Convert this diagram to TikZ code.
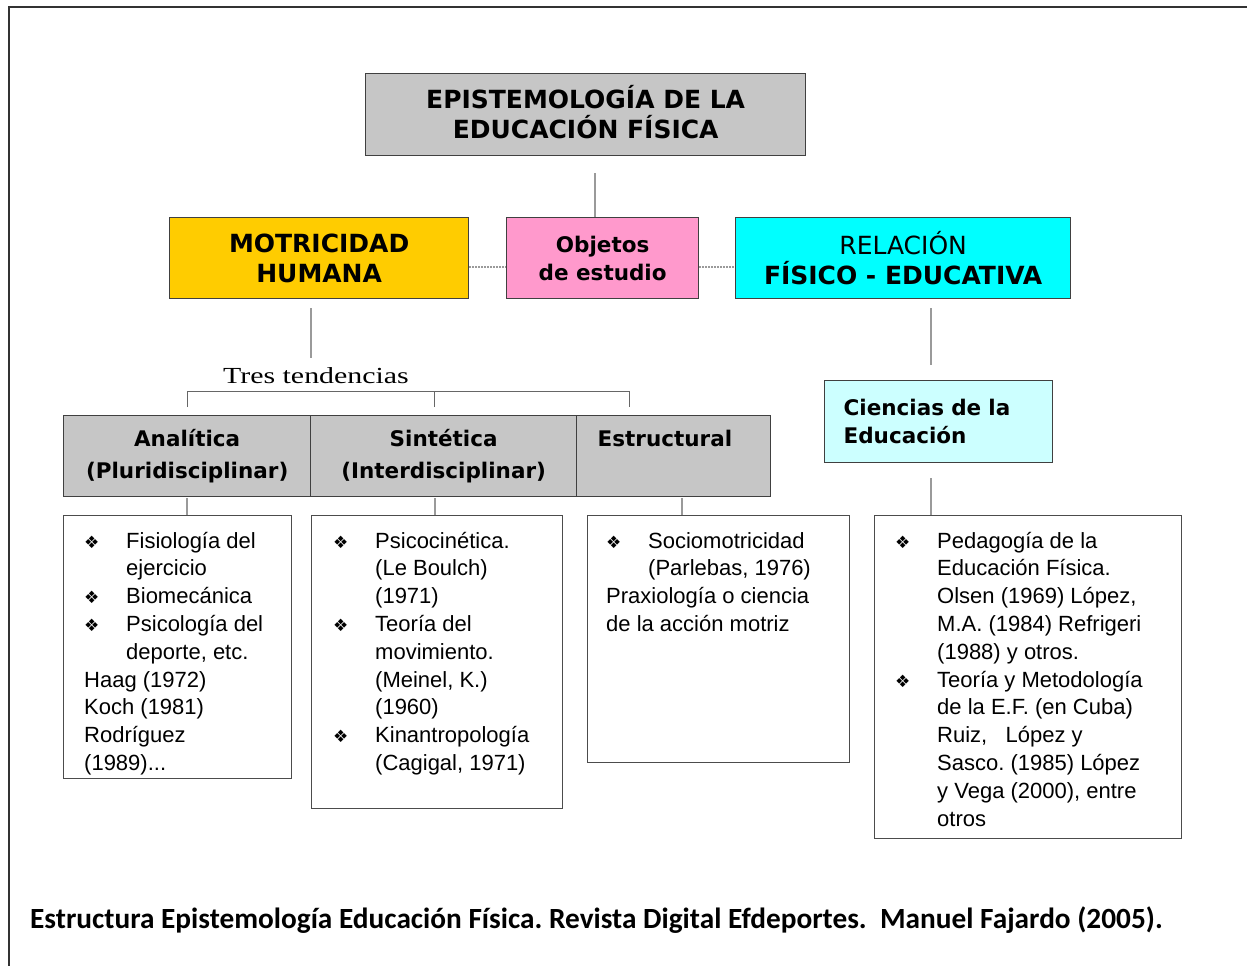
\documentclass[tikz,border=0pt]{standalone}
\usepackage{fontspec}
\usepackage{graphicx}
\setmainfont{DejaVu Sans}
\newfontfamily\boxfont{DejaVu Sans}
\newfontfamily\listfont{Liberation Sans}
\newfontfamily\serfont{Liberation Serif}
\newfontfamily\capfont{Carlito}
\newfontfamily\symfont{DejaVu Sans}
\definecolor{goldb}{HTML}{FFCC00}
\definecolor{pinkb}{HTML}{FF99CC}
\definecolor{cyanb}{HTML}{00FFFF}
\definecolor{lcyan}{HTML}{CCFFFF}
\definecolor{dotgray}{HTML}{C6C6C6}
\definecolor{linegray}{HTML}{9A9A9A}
\definecolor{frameg}{HTML}{333333}
\newcommand\bl{\makebox[42pt][l]{{\symfont\fontsize{17}{17}\selectfont ❖}}}
\newcommand\ind{\hspace*{42pt}}
\newcommand\lsize{\listfont\fontsize{22}{27.8}\selectfont}
\frenchspacing
\tikzset{
  box/.style={draw=black!75, line width=1.3pt, inner sep=0pt, anchor=north west, align=center},
  bigtxt/.style={font=\boxfont\bfseries\fontsize{25}{30}\selectfont},
  midtxt/.style={font=\boxfont\bfseries\fontsize{21.5}{28}\selectfont},
  rowtxt/.style={font=\boxfont\bfseries\fontsize{21.5}{32}\selectfont},
  listbox/.style={draw=black!70, line width=1.3pt, inner sep=0pt, anchor=north west, fill=white},
  listtxt/.style={anchor=base west, inner sep=0pt, font=\lsize},
  conn/.style={draw=linegray, line width=2.2pt},
  thinconn/.style={draw=linegray, line width=1.4pt},
  dconn/.style={draw=linegray, line width=2pt, dash pattern=on 2pt off 1pt},
  bracket/.style={draw=black!60, line width=1pt},
}
\begin{document}
\begin{tikzpicture}[x=1pt,y=-1pt]
\useasboundingbox (0,0) rectangle (1247,966);
% outer frame
\draw[frameg, line width=2.5pt] (9,966) -- (9,7) -- (1247,7);

% top boxes
\node[box, bigtxt, fill=dotgray, minimum width=440, minimum height=82] (title) at (365,73)
  {EPISTEMOLOGÍA DE LA\\EDUCACIÓN FÍSICA\rule[-6pt]{0pt}{1pt}};
\node[box, bigtxt, fill=goldb, minimum width=299, minimum height=81] (motr) at (169,217)
  {MOTRICIDAD\\HUMANA};
\node[box, midtxt, fill=pinkb, minimum width=192, minimum height=81] (obj) at (506,217)
  {Objetos\\de estudio};
\node[box, bigtxt, fill=cyanb, minimum width=335, minimum height=81] (rel) at (735,217)
  {{\mdseries RELACIÓN}\\FÍSICO - EDUCATIVA};
\node[box, midtxt, fill=lcyan, align=left, text width=190, inner xsep=19, minimum height=82] (cien) at (824,380)
  {Ciencias de la\\Educación};

% gray row
\node[box, rowtxt, fill=dotgray, minimum width=247, minimum height=81] (ana) at (63,415)
  {Analítica\\(Pluridisciplinar)};
\node[box, rowtxt, fill=dotgray, minimum width=266, minimum height=81] (sint) at (310,415)
  {Sintética\\(Interdisciplinar)};
\node[box, rowtxt, fill=dotgray, align=left, text width=152, inner xsep=21, minimum height=81] (estr) at (576,415)
  {Estructural\\\phantom{(}};

% list boxes
\node[listbox, minimum width=228, minimum height=263] (l1) at (63,515) {};
\node[listbox, minimum width=251, minimum height=293] (l2) at (311,515) {};
\node[listbox, minimum width=262, minimum height=247] (l3) at (587,515) {};
\node[listbox, minimum width=307, minimum height=323] (l4) at (874,515) {};

\node[listtxt] (t1) at (84,548) {\begin{tabular}[t]{@{}l@{}}
\bl Fisiología del\\
\ind ejercicio\\
\bl Biomecánica\\
\bl Psicología del\\
\ind deporte, etc.\\
Haag (1972)\\
Koch (1981)\\
Rodríguez\\
(1989)...
\end{tabular}};
\node[listtxt] (t2) at (333,548) {\begin{tabular}[t]{@{}l@{}}
\bl Psicocinética.\\
\ind (Le Boulch)\\
\ind (1971)\\
\bl Teoría del\\
\ind movimiento.\\
\ind (Meinel, K.)\\
\ind (1960)\\
\bl Kinantropología\\
\ind (Cagigal, 1971)
\end{tabular}};
\node[listtxt] (t3) at (606,548) {\begin{tabular}[t]{@{}l@{}}
\bl Sociomotricidad\\
\ind (Parlebas, 1976)\\
Praxiología o ciencia\\
de la acción motriz
\end{tabular}};
\node[listtxt] (t4) at (895,548) {\begin{tabular}[t]{@{}l@{}}
\bl Pedagogía de la\\
\ind Educación Física.\\
\ind Olsen (1969) López,\\
\ind M.A. (1984) Refrigeri\\
\ind (1988) y otros.\\
\bl Teoría y Metodología\\
\ind de la E.F. (en Cuba)\\
\ind Ruiz,\ \ \ López y\\
\ind Sasco. (1985) López\\
\ind y Vega (2000), entre\\
\ind otros
\end{tabular}};

% Tres tendencias
\node[anchor=base, inner sep=0pt, font=\serfont\fontsize{23}{23}\selectfont] (tres) at (316,383)
  {\scalebox{1.3}[1]{Tres tendencias}};

% connectors
\coordinate (c0) at (595,173);
\draw[conn] (c0) -- (c0 |- obj.north);
\draw[dconn] ([yshift=-8.5pt]motr.east) -- ([yshift=-8.5pt]obj.west);
\draw[dconn] ([yshift=-8.5pt]obj.east) -- ([yshift=-8.5pt]rel.west);
\coordinate (m1) at (311,308);
\coordinate (m2) at (311,358);
\draw[thinconn] (m1) -- (m2);
\coordinate (r1) at (931,308);
\coordinate (r2) at (931,365);
\draw[conn] (r1) -- (r2);
\coordinate (ci) at (931,478);
\draw[thinconn] (ci) -- (ci |- l4.north);
% bracket
\coordinate (bl) at (187,407);
\coordinate (bm) at (434,407);
\coordinate (br) at (629,407);
\draw[bracket] (bl) -- ++(0,-16) -| (br);
\draw[bracket] (bm) -- ++(0,-16);
% lower verticals
\coordinate (a1) at (187,498);
\coordinate (s1) at (435,498);
\coordinate (e1) at (682,498);
\draw[thinconn] (a1) -- (a1 |- l1.north);
\draw[thinconn] (s1) -- (s1 |- l2.north);
\draw[thinconn] (e1) -- (e1 |- l3.north);

% caption
\node[anchor=base west, inner sep=0pt, font=\capfont\bfseries\fontsize{29.3}{30}\selectfont] (cap) at (30,928)
  {Estructura Epistemología Educación Física. Revista Digital Efdeportes.\ \ Manuel Fajardo (2005).};
\end{tikzpicture}
\end{document}
